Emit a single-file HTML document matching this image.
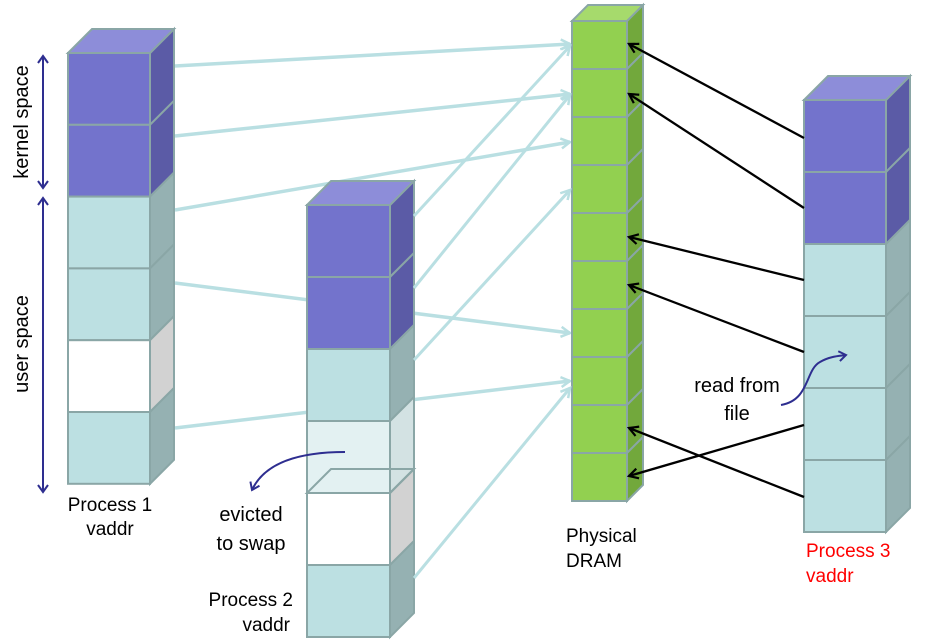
<!DOCTYPE html>
<html><head><meta charset="utf-8"><style>
html,body{margin:0;padding:0;background:#fff}
svg{display:block}
text{font-family:"Liberation Sans",Arial,sans-serif}
</style></head><body>
<svg id="s" width="935" height="643" viewBox="0 0 935 643" xmlns="http://www.w3.org/2000/svg">
<defs>
<marker id="lb" markerWidth="14" markerHeight="14" refX="11" refY="7" orient="auto" markerUnits="userSpaceOnUse">
<polyline points="2,2 11,7 2,12" fill="none" stroke="#b9dfe2" stroke-width="2.5"/></marker>
<marker id="bk" markerWidth="14" markerHeight="14" refX="11" refY="7" orient="auto" markerUnits="userSpaceOnUse">
<polyline points="2,2 11,7 2,12" fill="none" stroke="#000" stroke-width="2.2"/></marker>
<marker id="bl" markerWidth="14" markerHeight="14" refX="10" refY="7" orient="auto" markerUnits="userSpaceOnUse">
<polyline points="3,2 10,7 3,12" fill="none" stroke="#2e2e90" stroke-width="2"/></marker>
</defs>
<g stroke="#b9dfe2" stroke-width="3.5" fill="none" marker-end="url(#lb)">
<line x1="175" y1="66" x2="570" y2="44"/>
<line x1="175" y1="136" x2="570" y2="94"/>
<line x1="175" y1="210" x2="570" y2="142"/>
<line x1="175" y1="283" x2="570" y2="333"/>
<line x1="175" y1="428" x2="570" y2="381"/>
</g>
<g id="blocks"></g>
<g stroke="#b9dfe2" stroke-width="3" fill="none" marker-end="url(#lb)">
<line x1="414" y1="216" x2="570" y2="46"/>
<line x1="414" y1="288" x2="570" y2="95"/>
<line x1="414" y1="360" x2="570" y2="190"/>
<line x1="414" y1="578" x2="570" y2="388"/>
</g>
<g stroke="#000" stroke-width="2.3" fill="none" marker-end="url(#bk)">
<line x1="804" y1="138" x2="629" y2="44"/>
<line x1="804" y1="208" x2="629" y2="94"/>
<line x1="804" y1="280" x2="629" y2="237"/>
<line x1="804" y1="352" x2="629" y2="285"/>
<line x1="804" y1="425" x2="629" y2="476"/>
<line x1="804" y1="497" x2="629" y2="428"/>
</g>
<g stroke="#2e2e90" stroke-width="2" fill="none">
<line x1="43" y1="188" x2="43" y2="56" marker-end="url(#bl)"/>
<line x1="43" y1="56" x2="43" y2="188" marker-end="url(#bl)"/>
<line x1="43" y1="198" x2="43" y2="492" marker-end="url(#bl)"/>
<line x1="43" y1="492" x2="43" y2="198" marker-end="url(#bl)"/>
<path d="M345,452 C300,452 265,462 252,490" marker-end="url(#bl)"/>
<path d="M781,405 C810,400 805,370 820,362 C830,356 840,356 846,355" marker-end="url(#bl)"/>
</g>
<text transform="translate(28,122) rotate(-90)" font-size="20" text-anchor="middle">kernel space</text>
<text transform="translate(28,344) rotate(-90)" font-size="20" text-anchor="middle">user space</text>
<g font-size="19">
<text x="110" y="511" text-anchor="middle">Process 1</text><text x="110" y="535" text-anchor="middle">vaddr</text>
<text x="293" y="606" text-anchor="end">Process 2</text><text x="290" y="631" text-anchor="end">vaddr</text>
<text x="566" y="542">Physical</text><text x="566" y="567">DRAM</text>
<text x="806" y="557" fill="#ff0000">Process 3</text><text x="806" y="582" fill="#ff0000">vaddr</text>
</g>
<g font-size="20" text-anchor="middle">
<text x="251" y="521">evicted</text><text x="251" y="550">to swap</text>
<text x="737" y="392">read from</text><text x="737" y="420">file</text>
</g>
</svg>
<script>
var g=document.getElementById('blocks'),NS='http://www.w3.org/2000/svg',S='#8aa6a6';
function el(t,a){var e=document.createElementNS(NS,t);for(var k in a)e.setAttribute(k,a[k]);e.setAttribute('stroke',a.stroke||S);e.setAttribute('stroke-width',a.sw||2);g.appendChild(e);return e;}
var C={p:['#7373cc','#5b5ba6','#8d8dd9'],l:['#bce0e2','#95b1b2','#cde8ea'],w:['#ffffff','#d2d2d2','#eee'],e:['#e3f1f2','#d3e2e3','#e3f1f2'],g:['#92d050','#72a83c','#a6da6c']};
function col(x,y,w,h,d,types){
 types.forEach(function(t,i){var c=C[t],yy=y+i*h;
  el('rect',{x:x,y:yy,width:w,height:h,fill:c[0]});
  el('polygon',{points:[x+w,yy,x+w+d,yy-d,x+w+d,yy+h-d,x+w,yy+h].join(','),fill:c[1]});
  if(i==0)el('polygon',{points:[x,y,x+d,y-d,x+w+d,y-d,x+w,y].join(','),fill:c[2]});
 });
}
col(68,53,82,71.8,24,['p','p','l','l','w','l']);
col(307,205,83,72,24,['p','p','l','e','w','l']);
el('polygon',{points:'307,493 331,469 414,469 390,493',fill:'none'});
col(572,21,55,48,16,['g','g','g','g','g','g','g','g','g','g']);
col(804,100,82,72,24,['p','p','l','l','l','l']);
</script>
</body></html>
